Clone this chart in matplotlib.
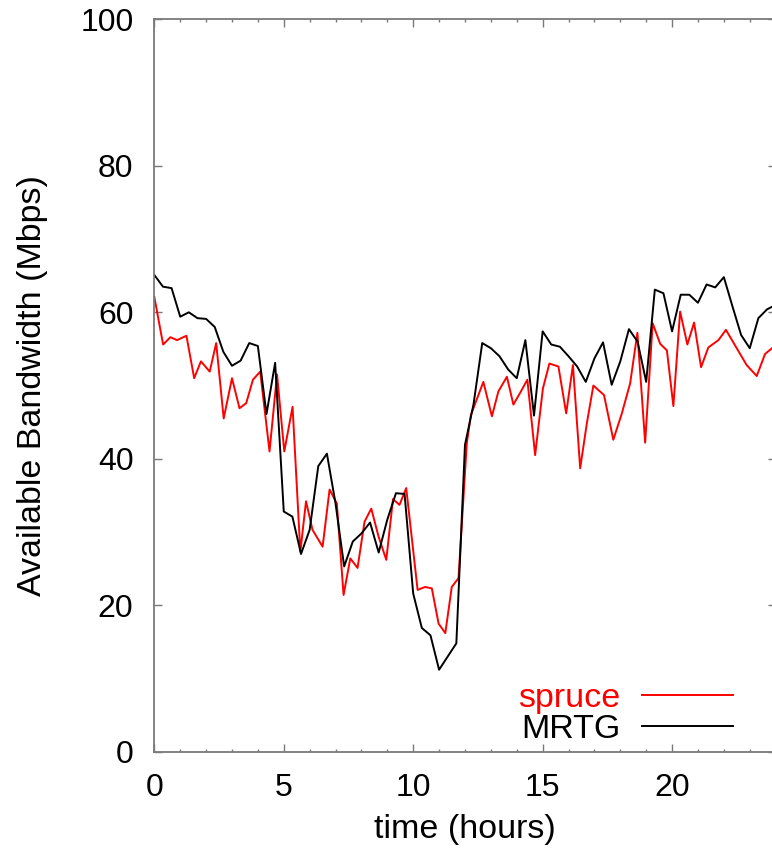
import matplotlib
matplotlib.use("Agg")
import matplotlib.pyplot as plt
from matplotlib.ticker import MultipleLocator

plt.rcParams['font.family'] = ['Liberation Sans', 'DejaVu Sans']

# MRTG: one sample every 20 minutes
mrtg_hours = [i / 3 for i in range(73)]
mrtg_bw = [65.1, 63.5, 63.3, 59.4, 60.0, 59.2, 59.1, 58.0, 54.6, 52.7,
           53.4, 55.8, 55.4, 46.1, 53.1, 32.8, 32.1, 27.0, 30.3, 39.0,
           40.7, 33.9, 25.3, 28.7, 29.8, 31.3, 27.2, 31.7, 35.3, 35.2,
           21.6, 16.9, 15.9, 11.2, 13.0, 14.8, 41.9, 47.5, 55.8, 55.1,
           54.0, 52.2, 51.0, 56.2, 45.9, 57.4, 55.6, 55.3, 54.0, 52.6,
           50.5, 53.7, 55.9, 50.1, 53.3, 57.7, 56.0, 50.5, 63.1, 62.6,
           57.4, 62.4, 62.4, 61.3, 63.8, 63.4, 64.8, 60.8, 56.9, 55.1,
           59.2, 60.4, 61.0]

# spruce: irregular sample times (hours)
spruce_hours = [0.00, 0.34, 0.62, 0.88, 1.24, 1.54, 1.80, 2.14, 2.39, 2.68,
                3.00, 3.29, 3.55, 3.81, 4.09, 4.45, 4.74, 5.02, 5.34, 5.64,
                5.86, 6.11, 6.50, 6.77, 7.05, 7.31, 7.57, 7.85, 8.12, 8.38,
                8.66, 8.96, 9.22, 9.47, 9.73, 10.17, 10.46, 10.72, 10.98, 11.24,
                11.49, 11.75, 12.07, 12.23, 12.71, 13.04, 13.29, 13.62, 13.87, 14.13,
                14.41, 14.71, 15.01, 15.26, 15.61, 15.91, 16.17, 16.45, 16.71, 16.96,
                17.37, 17.73, 18.06, 18.38, 18.66, 18.96, 19.25, 19.54, 19.80, 20.05,
                20.31, 20.59, 20.85, 21.12, 21.40, 21.79, 22.08, 22.88, 23.27, 23.59,
                23.86]
spruce_bw = [62.1, 55.6, 56.6, 56.2, 56.8, 51.0, 53.3, 51.9, 55.8, 45.5,
             51.0, 46.9, 47.6, 50.8, 51.9, 41.0, 51.5, 41.0, 47.1, 27.3,
             34.2, 30.3, 28.0, 35.8, 33.9, 21.4, 26.4, 25.1, 31.4, 33.2,
             29.4, 26.2, 34.5, 33.7, 36.0, 22.1, 22.5, 22.3, 17.5, 16.2,
             22.5, 23.7, 42.1, 46.0, 50.5, 45.8, 49.2, 51.2, 47.4, 49.0,
             50.8, 40.5, 49.6, 53.0, 52.6, 46.2, 52.8, 38.7, 44.9, 50.0,
             48.7, 42.6, 46.2, 50.3, 57.2, 42.2, 58.5, 55.7, 54.8, 47.2,
             60.1, 55.6, 58.6, 52.5, 55.2, 56.2, 57.6, 52.8, 51.3, 54.3,
             55.1]

x_ticks = [0, 5, 10, 15, 20]
y_ticks = [0, 20, 40, 60, 80, 100]

fig = plt.figure(figsize=(7.72, 8.56), dpi=100)
ax = fig.add_axes([0.1999, 0.1218, 0.8048, 0.8556])

ax.plot(spruce_hours, spruce_bw, color='#ff0000', lw=1.4, label='spruce')
ax.plot(mrtg_hours, mrtg_bw, color='#000000', lw=1.4, label='MRTG')

ax.set_xlim(0, 24)
ax.set_ylim(0, 100)
ax.set_xticks(x_ticks)
ax.set_yticks(y_ticks)
ax.xaxis.set_minor_locator(MultipleLocator(1))

for s in ax.spines.values():
    s.set_color('#7a7a7a')
    s.set_linewidth(1.3)

ax.tick_params(which='both', direction='in', top=True, right=True,
               colors='#7a7a7a', labelcolor='black', labelsize=23)
ax.tick_params(which='major', length=5.5, width=1.0, pad=15)
ax.tick_params(which='minor', length=2.5, width=1.0)

ax.set_xlabel('time (hours)', fontsize=24.5)
ax.set_ylabel('Available Bandwidth (Mbps)', fontsize=24.5)
ax.xaxis.set_label_coords(0.5, -0.085)
ax.yaxis.set_label_coords(-0.171, 0.5)

ax.legend(loc='lower right', bbox_to_anchor=(0.9314, 0.0098), frameon=False,
          markerfirst=False, labelcolor='linecolor', fontsize=24.5,
          handlelength=2.67, handletextpad=0.65, labelspacing=0.0,
          borderpad=0, borderaxespad=0)

fig.savefig('out.png', dpi=100)
